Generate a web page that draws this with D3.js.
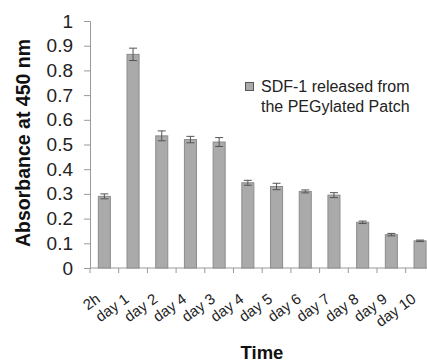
<!DOCTYPE html>
<html><head><meta charset="utf-8">
<script src="https://cdn.jsdelivr.net/npm/d3@7"></script>
<style>body{margin:0;background:#fff}svg{display:block}</style>
</head><body>
<svg id="c" width="427" height="362"></svg>
<script>
const categories = ["2h","day 1","day 2","day 4","day 3","day 4 ","day 5","day 6","day 7","day 8","day 9","day 10"];
const values = [0.29,0.865,0.535,0.52,0.51,0.345,0.33,0.31,0.295,0.185,0.135,0.11];
const errors = [0.01,0.025,0.02,0.013,0.018,0.01,0.013,0.006,0.01,0.005,0.005,0.003];
const yTicks = [0,0.1,0.2,0.3,0.4,0.5,0.6,0.7,0.8,0.9,1];
const yTickLabels = ["0","0.1","0.2","0.3","0.4","0.5","0.6","0.7","0.8","0.9","1"];
const legendLines = ["SDF-1 released from","the PEGylated Patch"];

const svg = d3.select("#c");
const font = "'Liberation Sans', Arial, sans-serif";
const x0 = 90, x1 = 90 + 12*28.7, yB = 268, yT = 21;
const x = d3.scaleBand().domain(categories).range([x0, x1]).paddingInner(0.58).paddingOuter(0.29);
const y = d3.scaleLinear().domain([0,1]).range([yB, yT]);

// y axis
const ya = svg.append("g").attr("transform",`translate(${x0},0)`)
  .call(d3.axisLeft(y).tickValues(yTicks).tickFormat((d,i)=>yTickLabels[i]).tickSize(6).tickPadding(11));
ya.select(".domain").attr("stroke","#999");
ya.selectAll(".tick line").attr("stroke","#999");
ya.selectAll("text").attr("font-family",font).attr("font-size",19).attr("fill","#222");

// x axis with ticks between categories
const step = x.step();
const xa = svg.append("g").attr("transform",`translate(0,${yB})`);
xa.append("line").attr("x1",x0).attr("x2",x1).attr("stroke","#999");
xa.selectAll("line.t").data(d3.range(categories.length+1)).enter().append("line")
  .attr("class","t").attr("x1",i=>x0+i*step).attr("x2",i=>x0+i*step).attr("y1",0).attr("y2",5).attr("stroke","#999");
xa.selectAll("text").data(categories).enter().append("text")
  .attr("transform",d=>`translate(${x(d)+x.bandwidth()/2-3},${33}) rotate(-36)`)
  .attr("text-anchor","end").attr("font-family",font).attr("font-size",15).attr("fill","#222")
  .text(d=>d.trim());

// bars
svg.append("g").selectAll("rect").data(values).enter().append("rect")
  .attr("x",(d,i)=>x(categories[i])).attr("width",x.bandwidth())
  .attr("y",d=>y(d)).attr("height",d=>yB-y(d))
  .attr("fill","#aaaaaa").attr("stroke","#8c8c8c").attr("stroke-width",1);

// error bars
const eb = svg.append("g").attr("stroke","#555").attr("stroke-width",1);
values.forEach((v,i)=>{
  const cx = x(categories[i])+x.bandwidth()/2;
  eb.append("line").attr("x1",cx).attr("x2",cx).attr("y1",y(v+errors[i])).attr("y2",y(v-errors[i]));
  eb.append("line").attr("x1",cx-4).attr("x2",cx+4).attr("y1",y(v+errors[i])).attr("y2",y(v+errors[i]));
  eb.append("line").attr("x1",cx-4).attr("x2",cx+4).attr("y1",y(v-errors[i])).attr("y2",y(v-errors[i]));
});

// legend
svg.append("rect").attr("x",245.5).attr("y",82.5).attr("width",8).attr("height",8)
  .attr("fill","#aaaaaa").attr("stroke","#555");
legendLines.forEach((t,i)=>{
  svg.append("text").attr("x",261).attr("y",92+i*19.5).attr("font-family",font).attr("font-size",16)
    .attr("fill","#222").text(t);
});

// axis titles
svg.append("text").attr("transform","translate(30,143) rotate(-90)").attr("text-anchor","middle")
  .attr("font-family",font).attr("font-weight","bold").attr("font-size",19.5).attr("fill","#111")
  .text("Absorbance at 450 nm");
svg.append("text").attr("x",262).attr("y",359).attr("text-anchor","middle")
  .attr("font-family",font).attr("font-weight","bold").attr("font-size",18.5).attr("fill","#111")
  .text("Time");
</script>
</body></html>
